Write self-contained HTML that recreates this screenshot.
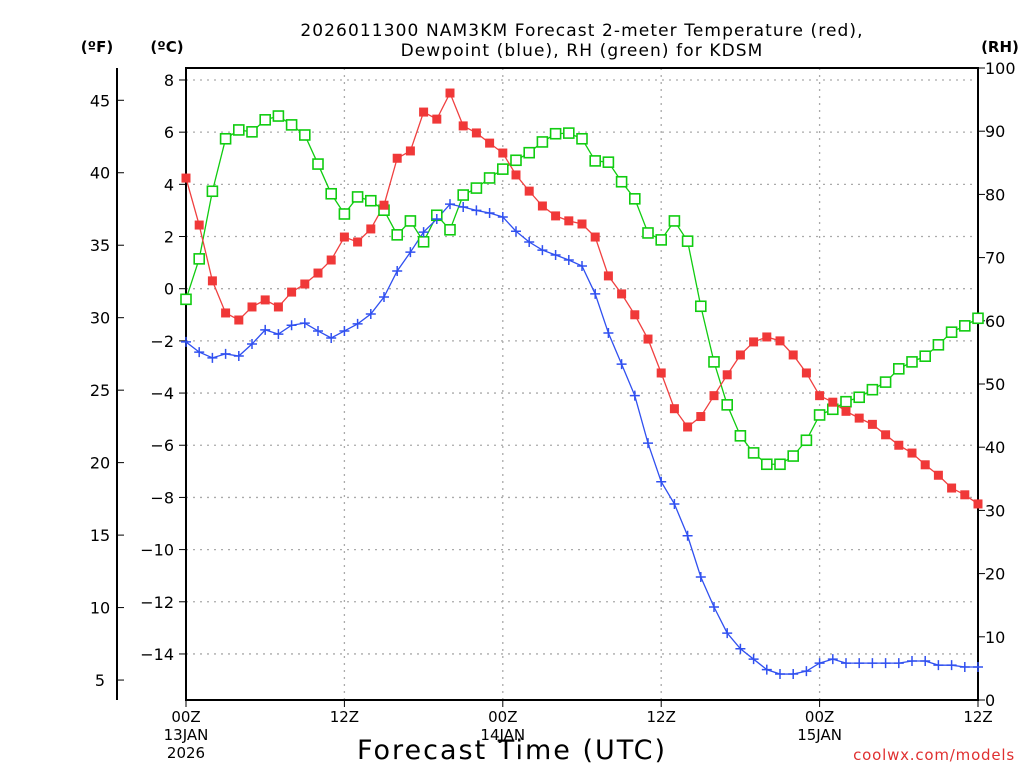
<!DOCTYPE html>
<html><head><meta charset="utf-8"><style>
body{margin:0;background:#fff}
svg text{font-family:"DejaVu Sans","Liberation Sans",sans-serif}
</style></head><body>
<svg id="c" width="1024" height="768" xmlns="http://www.w3.org/2000/svg">
<rect width="1024" height="768" fill="#fff"/>
<g id="grid"></g>
<g id="axes"></g>
<g id="series"></g>
<text x="582" y="36" font-size="17" letter-spacing="1.1" text-anchor="middle">2026011300 NAM3KM Forecast 2-meter Temperature (red),</text>
<text x="582" y="56" font-size="17" letter-spacing="1.1" text-anchor="middle">Dewpoint (blue), RH (green) for KDSM</text>
<text x="97" y="52" font-size="15" font-weight="bold" text-anchor="middle">(ºF)</text>
<text x="167" y="52" font-size="15" font-weight="bold" text-anchor="middle">(ºC)</text>
<text x="1000" y="52" font-size="15" font-weight="bold" text-anchor="middle">(RH)</text>
<text x="512" y="759" font-size="27" letter-spacing="2" text-anchor="middle">Forecast Time (UTC)</text>
<text x="1015" y="760" font-size="15" letter-spacing="0.8" fill="#e03030" text-anchor="end">coolwx.com/models</text>
</svg>
<script>
const hours=[...Array(61).keys()];
const temp=[4.24,2.44,0.3,-0.93,-1.2,-0.7,-0.43,-0.7,-0.13,0.18,0.6,1.1,1.98,1.79,2.29,3.2,5.0,5.28,6.77,6.5,7.5,6.24,5.97,5.58,5.2,4.36,3.74,3.17,2.79,2.6,2.48,1.98,0.49,-0.2,-1.0,-1.93,-3.23,-4.6,-5.3,-4.9,-4.1,-3.3,-2.54,-2.04,-1.85,-2.0,-2.54,-3.23,-4.1,-4.35,-4.7,-4.96,-5.2,-5.6,-6.0,-6.3,-6.75,-7.15,-7.64,-7.9,-8.25];
const dewp=[-2.04,-2.43,-2.65,-2.5,-2.58,-2.12,-1.58,-1.74,-1.4,-1.32,-1.62,-1.89,-1.62,-1.35,-0.97,-0.32,0.68,1.4,2.17,2.67,3.24,3.13,3.0,2.9,2.75,2.2,1.79,1.48,1.29,1.1,0.87,-0.2,-1.7,-2.89,-4.1,-5.92,-7.4,-8.25,-9.47,-11.05,-12.2,-13.2,-13.8,-14.2,-14.6,-14.77,-14.77,-14.66,-14.35,-14.2,-14.35,-14.35,-14.35,-14.35,-14.35,-14.27,-14.27,-14.43,-14.43,-14.5,-14.5];
const rh=[63.4,69.8,80.5,88.8,90.2,89.9,91.8,92.4,91.0,89.4,84.8,80.1,76.9,79.6,79.0,77.5,73.6,75.8,72.5,76.7,74.4,79.9,81.0,82.6,84.0,85.4,86.6,88.3,89.6,89.7,88.8,85.3,85.1,82.0,79.3,73.9,72.8,75.8,72.6,62.3,53.5,46.7,41.8,39.1,37.3,37.3,38.6,41.1,45.1,46.0,47.2,47.9,49.1,50.3,52.4,53.5,54.4,56.2,58.2,59.2,60.4];
const cTicks=[8,6,4,2,0,-2,-4,-6,-8,-10,-12,-14];
const fTicks=[45,40,35,30,25,20,15,10,5];
const rhTicks=[100,90,80,70,60,50,40,30,20,10,0];
const xTicks=[0,12,24,36,48,60];
const xLabels=["00Z","12Z","00Z","12Z","00Z","12Z"];
const x0=186,x1=978,yT=68,yB=700;
const X=h=>x0+(x1-x0)*h/60;
const YC=c=>288.7-c*26.09;
const YF=f=>YC((f-32)*5/9);
const YR=r=>yB-(yB-yT)*r/100;
const NS="http://www.w3.org/2000/svg";
function mk(p,tag,at,txt){const e=document.createElementNS(NS,tag);for(const k in at)e.setAttribute(k,at[k]);if(txt!==undefined)e.textContent=txt;document.getElementById(p).appendChild(e);return e;}
cTicks.forEach(c=>{const e=mk('grid','line',{x1:x0,x2:x1,y1:YC(c),y2:YC(c),stroke:'#aaa','stroke-dasharray':'2 5','stroke-width':1.3});

});
xTicks.slice(1,5).forEach(h=>{const e=mk('grid','line',{x1:X(h),x2:X(h),y1:yT,y2:yB,stroke:'#aaa','stroke-dasharray':'2 5','stroke-width':1.3});

});
let fr=mk('axes','rect',{x:x0,y:yT,width:x1-x0,height:yB-yT,fill:'none',stroke:'#000','stroke-width':2});


let fl=mk('axes','line',{x1:117,x2:117,y1:yT,y2:yB,stroke:'#000','stroke-width':2});


cTicks.forEach(c=>{mk('axes','line',{x1:x0-7,x2:x0,y1:YC(c),y2:YC(c),stroke:'#000'});
const t=mk('axes','text',{x:x0-12,y:YC(c)+6,'font-size':16,'text-anchor':'end'},c<0?'\u2212'+(-c):''+c);

});
fTicks.forEach(f=>{mk('axes','line',{x1:117,x2:124,y1:YF(f),y2:YF(f),stroke:'#000'});
const t=mk('axes','text',{x:100,y:YF(f)+6,'font-size':16,'text-anchor':'middle'},''+f);

});
rhTicks.forEach(r=>{mk('axes','line',{x1:x1,x2:x1+7,y1:YR(r),y2:YR(r),stroke:'#000'});
const t=mk('axes','text',{x:985,y:YR(r)+6,'font-size':16,'text-anchor':'start'},''+r);

});
xTicks.forEach((h,i)=>{mk('axes','line',{x1:X(h),x2:X(h),y1:yB,y2:yB+7,stroke:'#000'});
const t=mk('axes','text',{x:X(h),y:722,'font-size':15,'text-anchor':'middle'},xLabels[i]);

});
[[0,"13JAN"],[24,"14JAN"],[48,"15JAN"]].forEach(d=>{const t=mk('axes','text',{x:X(d[0]),y:740,'font-size':15,'text-anchor':'middle'},d[1]);

});
const yr=mk('axes','text',{x:X(0),y:758,'font-size':15,'text-anchor':'middle'},"2026");


function line(vals,Y,col,name){const p=mk('series','polyline',{points:vals.map((v,i)=>X(hours[i])+','+Y(v)).join(' '),fill:'none',stroke:col,'stroke-width':1.3});

}
line(rh,YR,'#10cc10','rh-line');
line(temp,YC,'#f04040','temperature-line');
line(dewp,YC,'#3050f0','dewpoint-line');
rh.forEach((v,i)=>{const m=mk('series','rect',{x:X(hours[i])-5,y:YR(v)-5,width:10,height:10,fill:'#fff',stroke:'#10cc10','stroke-width':1.6});

});
temp.forEach((v,i)=>{const m=mk('series','rect',{x:X(hours[i])-4.5,y:YC(v)-4.5,width:9,height:9,fill:'#f03838'});

});
dewp.forEach((v,i)=>{const x=X(hours[i]),y=YC(v);const m=mk('series','path',{d:`M${x-5},${y}H${x+5}M${x},${y-5}V${y+5}`,stroke:'#3050f0','stroke-width':1.5});

});
</script>
</body></html>
